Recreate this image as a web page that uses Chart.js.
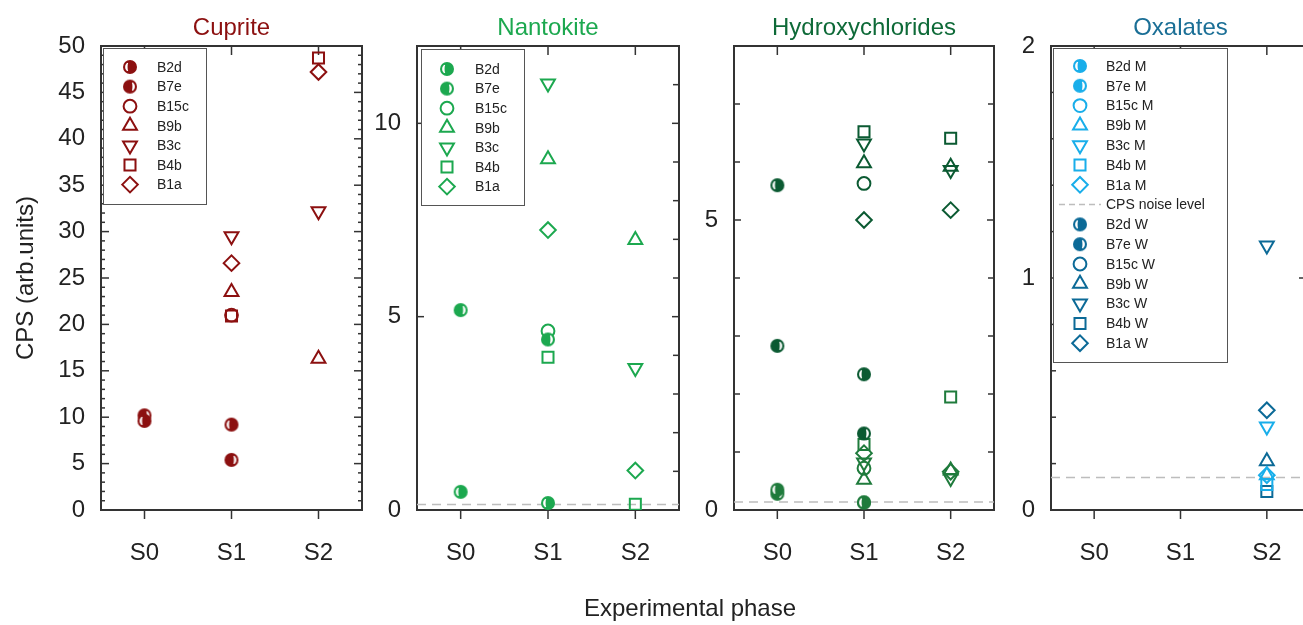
<!DOCTYPE html>
<html>
<head>
<meta charset="utf-8">
<script src="https://cdn.jsdelivr.net/npm/chart.js@4.4.1/dist/chart.umd.min.js"></script>
<style>
html,body{margin:0;padding:0;background:#fff;overflow:hidden;width:1303px;height:625px;position:relative;}
canvas.c{position:absolute;left:0;top:0;}
#xtitle{position:absolute;left:0;width:1380px;top:593px;text-align:center;font:24px "Liberation Sans",Arial,sans-serif;color:#222;line-height:30px;}
</style>
</head>
<body>
<canvas id="c1" class="c" width="1320" height="625"></canvas>
<canvas id="c2" class="c" width="1320" height="625"></canvas>
<canvas id="c3" class="c" width="1320" height="625"></canvas>
<canvas id="c4" class="c" width="1320" height="625"></canvas>
<div id="xtitle">Experimental phase</div>
<script>
// ---------- data ----------
const phases = ['S0', 'S1', 'S2'];
const samples = ['B2d', 'B7e', 'B15c', 'B9b', 'B3c', 'B4b', 'B1a'];
const noiseLevel = 0.14;

// Cuprite
const cupB2d  = [9.6, 9.2, null];
const cupB7e  = [10.2, 5.4, null];
const cupB15c = [null, 21.0, null];
const cupB9b  = [null, 23.5, 16.3];
const cupB3c  = [null, 29.5, 32.2];
const cupB4b  = [null, 20.9, 48.7];
const cupB1a  = [null, 26.6, 47.2];

// Nantokite
const nanB2d  = [0.47, 0.18, null];
const nanB7e  = [5.17, 4.41, null];
const nanB15c = [null, 4.63, null];
const nanB9b  = [null, 9.07, 6.98];
const nanB3c  = [null, 11.03, 3.67];
const nanB4b  = [null, 3.95, 0.15];
const nanB1a  = [null, 7.24, 1.02];

// Hydroxychlorides (upper, darker set)
const hyaB2d  = [5.6, 2.34, null];
const hyaB7e  = [2.83, 1.32, null];
const hyaB15c = [null, 5.63, null];
const hyaB9b  = [null, 5.98, 5.92];
const hyaB3c  = [null, 6.32, 5.86];
const hyaB4b  = [null, 6.52, 6.41];
const hyaB1a  = [null, 5.0, 5.17];
// Hydroxychlorides (lower, lighter set)
const hybB2d  = [0.35, 0.13, null];
const hybB7e  = [0.28, 0.13, null];
const hybB15c = [null, 0.72, null];
const hybB9b  = [null, 0.52, 0.68];
const hybB3c  = [null, 0.82, 0.55];
const hybB4b  = [null, 1.13, 1.95];
const hybB1a  = [null, 0.98, 0.66];

// Oxalates M
const oxmB2d  = [null, null, null];
const oxmB7e  = [null, null, null];
const oxmB15c = [null, null, null];
const oxmB9b  = [null, null, 0.15];
const oxmB3c  = [null, null, 0.36];
const oxmB4b  = [null, null, 0.11];
const oxmB1a  = [null, null, 0.15];
// Oxalates W
const oxwB2d  = [null, null, null];
const oxwB7e  = [null, null, null];
const oxwB15c = [null, null, null];
const oxwB9b  = [null, null, 0.21];
const oxwB3c  = [null, null, 1.14];
const oxwB4b  = [null, null, 0.08];
const oxwB1a  = [null, null, 0.43];

// y tick labels
const cupTicks = [0, 5, 10, 15, 20, 25, 30, 35, 40, 45, 50];
const nanTicks = [0, 5, 10];
const hydTicks = [0, 5];
const oxaTicks = [0, 1, 2];

// ---------- styling ----------
const FONT = '"Liberation Sans", Arial, sans-serif';
const W = 1320;
const COL = {
  cup: '#8c1010', nan: '#1ca84f', hydTitle: '#0e6a38', hydA: '#0b5a32', hydB: '#1f7b3c',
  oxaTitle: '#1b6f96', oxM: '#19aeea', oxW: '#0c6a97', text: '#222', frame: '#333'
};

function halfCircle(color, side) {
  const d = 14, s = d + 2;
  const c = document.createElement('canvas');
  c.width = s; c.height = s;
  const x = c.getContext('2d');
  const r = d / 2, cx = s / 2, cy = s / 2;
  x.fillStyle = color;
  x.beginPath(); x.arc(cx, cy, r, 0, Math.PI * 2); x.fill();
  const k = side === 'left' ? -1 : 1;
  x.save();
  x.beginPath(); x.arc(cx, cy, r * 0.7, 0, Math.PI * 2); x.clip();
  x.fillStyle = '#fff';
  x.beginPath(); x.ellipse(cx + k * r * 0.4, cy, r * 0.42, r * 0.62, 0, 0, Math.PI * 2); x.fill();
  x.fillStyle = color;
  x.beginPath(); x.ellipse(cx + k * r * 0.05, cy, r * 0.3, r * 0.7, 0, 0, Math.PI * 2); x.fill();
  x.restore();
  return c;
}

function markerFor(sample, color) {
  switch (sample) {
    case 'B2d': return { pointStyle: halfCircle(color, 'left'), pointRadius: 7, pointRotation: 0 };
    case 'B7e': return { pointStyle: halfCircle(color, 'right'), pointRadius: 7, pointRotation: 0 };
    case 'B15c': return { pointStyle: 'circle', pointRadius: 6.4, pointRotation: 0 };
    case 'B9b': return { pointStyle: 'triangle', pointRadius: 8, pointRotation: 0 };
    case 'B3c': return { pointStyle: 'triangle', pointRadius: 8, pointRotation: 180 };
    case 'B4b': return { pointStyle: 'rect', pointRadius: 7.8, pointRotation: 0 };
    case 'B1a': return { pointStyle: 'rectRot', pointRadius: 7.8, pointRotation: 0 };
  }
}

function toXY(vals) {
  const out = [];
  vals.forEach((v, i) => { if (v !== null) out.push({ x: i, y: v }); });
  return out;
}

function series(label, sample, vals, color, extra) {
  const m = markerFor(sample, color);
  return Object.assign({
    label: label,
    data: toXY(vals),
    showLine: false,
    pointStyle: m.pointStyle,
    pointRadius: m.pointRadius,
    pointHoverRadius: m.pointRadius,
    pointRotation: m.pointRotation,
    pointBorderColor: color,
    pointBackgroundColor: 'rgba(0,0,0,0)',
    pointBorderWidth: 2,
    borderColor: color,
    backgroundColor: 'rgba(0,0,0,0)'
  }, extra || {});
}

function noiseSeries(label, inLegend) {
  return {
    label: label,
    data: [{ x: -0.5, y: noiseLevel }, { x: 2.5, y: noiseLevel }],
    showLine: true,
    borderColor: '#bdbdbd',
    borderWidth: 1.5,
    borderDash: [9, 6],
    pointRadius: 0,
    pointHoverRadius: 0,
    isNoise: true,
    noLegend: !inLegend
  };
}

// ---------- plugins ----------
const frameTicks = {
  id: 'frameTicks',
  beforeDatasetsDraw(chart, args, o) {
    const { ctx, chartArea: a } = chart;
    const xs = chart.scales.x, ys = chart.scales.y;
    ctx.save();
    ctx.strokeStyle = COL.frame;
    ctx.lineWidth = 1.5;
    const line = (x1, y1, x2, y2) => { ctx.beginPath(); ctx.moveTo(x1, y1); ctx.lineTo(x2, y2); ctx.stroke(); };
    [0, 1, 2].forEach(v => {
      const px = xs.getPixelForValue(v);
      line(px, a.top, px, a.top + 9);
      line(px, a.bottom, px, a.bottom + 9);
    });
    const n = Math.round((o.max - o.min) / o.step);
    for (let i = 0; i <= n; i++) {
      const v = o.min + i * o.step;
      const py = ys.getPixelForValue(v);
      const q = v / o.major;
      const major = Math.abs(q - Math.round(q)) < 1e-6;
      const len = major ? o.majorLen : o.len;
      if (o.leftAll || major) line(a.left, py, a.left + len, py);
      line(a.right, py, a.right - len, py);
    }
    ctx.lineWidth = 2;
    ctx.strokeRect(a.left, a.top, a.right - a.left, a.bottom - a.top);
    ctx.restore();
  }
};

const boxLegend = {
  id: 'boxLegend',
  afterDraw(chart, args, o) {
    if (!o || !o.show) return;
    const ctx = chart.ctx, a = chart.chartArea;
    const bx = a.left + o.dx, by = a.top + o.dy;
    ctx.save();
    ctx.fillStyle = '#fff';
    ctx.fillRect(bx, by, o.w, o.h);
    ctx.strokeStyle = '#555';
    ctx.lineWidth = 1;
    ctx.strokeRect(bx + 0.5, by + 0.5, o.w, o.h);
    let yy = by + o.first;
    chart.data.datasets.forEach(d => {
      if (d.noLegend) return;
      const ix = bx + o.ix;
      if (d.isNoise) {
        ctx.save();
        ctx.strokeStyle = d.borderColor;
        ctx.lineWidth = 1.5;
        ctx.setLineDash([6, 4]);
        ctx.beginPath(); ctx.moveTo(ix - 21, yy); ctx.lineTo(ix + 21, yy); ctx.stroke();
        ctx.restore();
      } else {
        ctx.strokeStyle = d.pointBorderColor;
        ctx.fillStyle = d.pointBackgroundColor;
        ctx.lineWidth = 2;
        Chart.helpers.drawPoint(ctx, {
          pointStyle: d.pointStyle, rotation: d.pointRotation || 0,
          radius: d.pointRadius, borderWidth: 2
        }, ix, yy);
      }
      ctx.fillStyle = COL.text;
      ctx.font = '14px ' + FONT;
      ctx.textBaseline = 'middle';
      ctx.textAlign = 'left';
      ctx.fillText(d.label, bx + o.tx, yy + 1);
      yy += o.step;
    });
    ctx.restore();
  }
};

function makeChart(id, cfg) {
  const tickFont = { family: FONT, size: 24 };
  return new Chart(document.getElementById(id), {
    type: 'scatter',
    data: { datasets: cfg.datasets },
    options: {
      responsive: false,
      animation: false,
      devicePixelRatio: 1,
      events: [],
      layout: { padding: { left: cfg.left - cfg.yW, right: W - cfg.right, top: 0, bottom: 0 } },
      plugins: {
        legend: { display: false },
        tooltip: { enabled: false },
        title: {
          display: true, text: cfg.title, color: cfg.titleColor, fullSize: false,
          font: { family: FONT, size: 24, weight: 'normal' },
          padding: { top: 14, bottom: 3.2 }
        },
        frameTicks: cfg.ticks,
        boxLegend: cfg.legend || { show: false }
      },
      scales: {
        x: {
          type: 'linear', min: -0.5, max: 2.5,
          afterBuildTicks: s => { s.ticks = phases.map((p, i) => ({ value: i })); },
          ticks: { callback: v => phases[v], font: tickFont, color: COL.text, padding: 29, maxRotation: 0 },
          grid: { display: false, drawTicks: false },
          border: { display: false },
          afterFit: s => { s.height = 115; }
        },
        y: {
          type: 'linear', min: 0, max: cfg.ymax,
          afterBuildTicks: s => { s.ticks = cfg.yLabels.map(v => ({ value: v })); },
          ticks: { callback: v => String(v), font: tickFont, color: COL.text, padding: 16 },
          grid: { display: false, drawTicks: false },
          border: { display: false },
          title: cfg.yTitle ? {
            display: true, text: cfg.yTitle, color: COL.text,
            font: { family: FONT, size: 24 }, padding: { top: 12, bottom: 0 }
          } : { display: false },
          afterFit: s => { s.width = cfg.yW; }
        }
      }
    },
    plugins: [frameTicks, boxLegend]
  });
}

function sampleSet(prefix, arrays, color, suffix) {
  return samples.map((s, i) => series(s + (suffix || ''), s, arrays[i], color));
}

// Cuprite
makeChart('c1', {
  title: 'Cuprite', titleColor: COL.cup, left: 101, right: 362, yW: 101, ymax: 50,
  yLabels: cupTicks, yTitle: 'CPS (arb.units)',
  datasets: sampleSet('cup', [cupB2d, cupB7e, cupB15c, cupB9b, cupB3c, cupB4b, cupB1a], COL.cup),
  ticks: { min: 0, max: 50, step: 1, major: 5, len: 4, majorLen: 8, leftAll: true },
  legend: { show: true, dx: 2, dy: 2, w: 103, h: 156, ix: 27, tx: 54, first: 19, step: 19.6 }
});

// Nantokite
makeChart('c2', {
  title: 'Nantokite', titleColor: COL.nan, left: 417, right: 679, yW: 70, ymax: 12,
  yLabels: nanTicks,
  datasets: sampleSet('nan', [nanB2d, nanB7e, nanB15c, nanB9b, nanB3c, nanB4b, nanB1a], COL.nan)
    .concat([noiseSeries('CPS noise level', false)]),
  ticks: { min: 0, max: 12, step: 1, major: 5, len: 6, majorLen: 7, leftAll: false },
  legend: { show: true, dx: 4, dy: 3, w: 103, h: 156, ix: 26, tx: 54, first: 20, step: 19.6 }
});

// Hydroxychlorides
makeChart('c3', {
  title: 'Hydroxychlorides', titleColor: COL.hydTitle, left: 734, right: 994, yW: 70, ymax: 8,
  yLabels: hydTicks,
  datasets: sampleSet('hya', [hyaB2d, hyaB7e, hyaB15c, hyaB9b, hyaB3c, hyaB4b, hyaB1a], COL.hydA)
    .concat(sampleSet('hyb', [hybB2d, hybB7e, hybB15c, hybB9b, hybB3c, hybB4b, hybB1a], COL.hydB))
    .concat([noiseSeries('CPS noise level', false)]),
  ticks: { min: 0, max: 8, step: 1, major: 5, len: 6, majorLen: 7, leftAll: true }
});

// Oxalates
makeChart('c4', {
  title: 'Oxalates', titleColor: COL.oxaTitle, left: 1051, right: 1311, yW: 70, ymax: 2,
  yLabels: oxaTicks,
  datasets: sampleSet('oxm', [oxmB2d, oxmB7e, oxmB15c, oxmB9b, oxmB3c, oxmB4b, oxmB1a], COL.oxM, ' M')
    .concat([noiseSeries('CPS noise level', true)])
    .concat(sampleSet('oxw', [oxwB2d, oxwB7e, oxwB15c, oxwB9b, oxwB3c, oxwB4b, oxwB1a], COL.oxW, ' W')),
  ticks: { min: 0, max: 2, step: 0.2, major: 1, len: 5, majorLen: 11, leftAll: true },
  legend: { show: true, dx: 2, dy: 2, w: 174, h: 314, ix: 27, tx: 53, first: 18, step: 19.8 }
});
</script>
</body>
</html>
